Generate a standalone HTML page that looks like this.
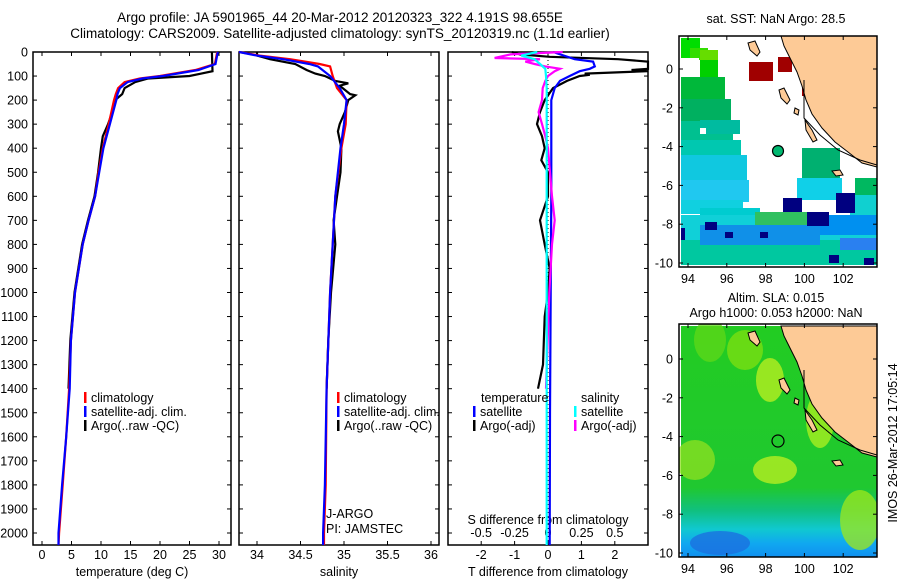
<!DOCTYPE html>
<html><head><meta charset="utf-8"><style>
body{margin:0;background:#fff;}
svg{display:block;font-family:"Liberation Sans",sans-serif;}
text{fill:#000;}
</style></head><body>
<svg id="fig" width="900" height="580" viewBox="0 0 900 580">
<defs>
<clipPath id="clip1"><rect x="679" y="36" width="198" height="231"/></clipPath>
<clipPath id="clip2"><rect x="679" y="324" width="198" height="233"/></clipPath>
</defs>
<text x="340" y="22" font-size="13.5" text-anchor="middle">Argo profile: JA 5901965_44 20-Mar-2012 20120323_322 4.191S 98.655E</text>
<text x="340" y="38" font-size="13.5" text-anchor="middle">Climatology: CARS2009. Satellite-adjusted climatology: synTS_20120319.nc (1.1d earlier)</text>
<g id="plots"></g>
<g id="maps"></g>
</svg>
<script>
// ---------- data ----------
const depthTicks=[0,100,200,300,400,500,600,700,800,900,1000,1100,1200,1300,1400,1500,1600,1700,1800,1900,2000];
const tTicks=[0,5,10,15,20,25,30];
const sTicks=[34,34.5,35,35.5,36];
const dTTicks=[-2,-1,0,1,2];
const dSTicks=[-0.5,-0.25,0,0.25,0.5];
const dSTickLabels=["-0.5","-0.25","0","0.25","0.5"];

const tClimDepth=[0,50,75,100,110,125,150,175,200,300,400,500,600,700,800,1000,1200,1400,1600,1800,2000,2050];
const tClim=[29.7,29.3,26,20,16.6,14,12.9,12.5,12.2,11.3,10.3,9.6,9.0,7.9,6.9,5.6,4.9,4.6,4.1,3.5,2.9,2.8];
const tSat=[29.8,29.4,26.5,20.5,17,14.5,13.2,12.8,12.6,11.5,10.4,9.7,9.0,7.9,6.9,5.6,4.9,4.7,4.1,3.4,2.8,2.8];
const tArgoDepth=[0,80,90,100,110,125,150,175,200,250,300,350,400,500,600,700,800,1000,1200,1400];
const tArgo=[28.8,28.9,27,25,18,15.8,14,13.6,12.4,11.9,11.2,10.3,10.0,9.5,8.9,7.8,6.8,5.5,4.8,4.5];

const sClimDepth=[0,15,30,50,60,100,150,200,300,400,600,1000,1400,1800,2000,2050];
const sClim=[33.79,34.03,34.38,34.72,34.84,34.87,34.92,35.03,35.02,34.97,34.90,34.84,34.80,34.79,34.77,34.77];
const sSat=[33.79,34.0,34.3,34.6,34.7,34.84,34.95,35.03,35.0,34.96,34.90,34.84,34.80,34.78,34.76,34.76];
const sArgoDepth=[0,15,30,50,75,90,100,120,130,140,175,180,200,250,300,330,400,500,600,700,800,1000,1200,1400];
const sArgo=[34.0,34.0,34.15,34.44,34.57,34.67,34.78,34.9,35.05,34.95,35.07,35.13,35.05,35.01,34.95,34.93,34.97,34.96,34.92,34.88,34.90,34.85,34.82,34.80];

const dTSatDepth=[0,30,40,60,70,80,100,120,150,200,600,1000,1500,2000,2050];
const dTSat=[0.15,0.8,1.35,1.4,1.25,0.95,0.65,0.36,0.2,0.1,0.1,0.08,0.06,0.05,0.05];
const dTArgoDepth=[0,10,20,30,40,70,75,80,90,95,100,120,150,200,250,300,350,400,450,500,600,700,800,900,1000,1100,1300,1400];
const dTArgo=[-1.08,-0.84,0.05,2.1,3.5,3.5,2.5,3.5,1.1,1.25,0.95,0.57,0.15,-0.1,-0.24,-0.33,-0.18,-0.1,-0.2,0,0,-0.24,-0.1,0.05,0,-0.1,-0.15,-0.3];
const dSArgoDepth=[0,10,25,30,40,50,60,70,80,100,120,150,200,250,300,350,400,500,600,700,800,1000,1400];
const dSArgo=[0.11,-0.28,-0.4,-0.06,-0.17,-0.1,-0.02,0.09,0.05,0,-0.02,-0.04,-0.045,-0.07,-0.045,-0.02,0,0.015,0.03,0.05,0.03,0.01,-0.015];
const dSSatDepth=[0,15,30,50,70,100,150,600,1000,2000,2050];
const dSSat=[-0.08,-0.2,-0.1,-0.06,-0.02,-0.015,-0.01,-0.01,-0.01,-0.01,-0.01];

const latTicks=[0,-2,-4,-6,-8,-10];
const lonTicks=[94,96,98,100,102];

// ---------- helpers ----------
const NS="http://www.w3.org/2000/svg";
function mk(tag,attrs,parent){const e=document.createElementNS(NS,tag);for(const k in attrs)e.setAttribute(k,attrs[k]);parent.appendChild(e);return e;}
const plots=document.getElementById('plots');
const maps=document.getElementById('maps');
const TOP=52,BOT=545;
const yD=d=>TOP+d*(481/2000);

function line(g,xs,ds,xf,color,name,x0,x1){
  const pts=xs.map((v,i)=>{let x=xf(v);x=Math.max(x0,Math.min(x1,x));return x.toFixed(1)+','+yD(ds[i]).toFixed(1);}).join(' ');
  const p=mk('polyline',{points:pts,fill:'none',stroke:color,'stroke-width':2.2,'stroke-linejoin':'miter'},g);
  
  
}
function box(g,x0,x1,name){
  const r=mk('rect',{x:x0,y:TOP,width:x1-x0,height:BOT-TOP,fill:'none',stroke:'#000','stroke-width':1.5},g);
  
  
  depthTicks.forEach(d=>{mk('line',{x1:x0,x2:x0+4,y1:yD(d),y2:yD(d),stroke:'#000'},g);mk('line',{x1:x1,x2:x1-4,y1:yD(d),y2:yD(d),stroke:'#000'},g);});
}
function xticks(g,ticks,labels,xf,ly){
  ticks.forEach((t,i)=>{const x=xf(t);
    mk('line',{x1:x,x2:x,y1:BOT,y2:BOT-4,stroke:'#000'},g);
    mk('line',{x1:x,x2:x,y1:TOP,y2:TOP+4,stroke:'#000'},g);
    const tx=mk('text',{x:x,y:ly,'font-size':12.5,'text-anchor':'middle'},g);tx.textContent=labels[i];
    
    
  });
}
function txt(g,x,y,s,name,anchor,size){const t=mk('text',{x:x,y:y,'font-size':size||12.5,'text-anchor':anchor||'start'},g);t.textContent=s;
  
  return t;}
function legend(g,x,y,color,label,name){mk('rect',{x:x,y:y-10,width:2.5,height:11,fill:color},g);txt(g,x+7,y,label,name);}

// ---------- panel 1: temperature ----------
const g1=mk('g',{},plots);


const xT=t=>42+5.9*t;
box(g1,33,231,'temperature-plot-frame');
depthTicks.forEach(d=>{txt(g1,28,yD(d)+4.5,String(d),'depth-tick-label','end');});
xticks(g1,tTicks,tTicks.map(String),xT,559);
txt(g1,132,576,'temperature (deg C)','temperature-x-axis-title','middle');
line(g1,tArgo,tArgoDepth,xT,'#000','temperature-argo-line',33,231);
line(g1,tClim,tClimDepth,xT,'#f00','temperature-climatology-line',33,231);
line(g1,tSat,tClimDepth,xT,'#00f','temperature-satellite-line',33,231);
legend(g1,84,402,'#f00','climatology','legend-climatology');
legend(g1,84,416,'#00f','satellite-adj. clim.','legend-satellite-adj');
legend(g1,84,430,'#000','Argo(..raw -QC)','legend-argo');

// ---------- panel 2: salinity ----------
const g2=mk('g',{},plots);


const xS=s=>257+87*(s-34);
box(g2,239,439,'salinity-plot-frame');
xticks(g2,sTicks,["34","34.5","35","35.5","36"],xS,559);
txt(g2,339,576,'salinity','salinity-x-axis-title','middle');
line(g2,sArgo,sArgoDepth,xS,'#000','salinity-argo-line',239,439);
line(g2,sClim,sClimDepth,xS,'#f00','salinity-climatology-line',239,439);
line(g2,sSat,sClimDepth,xS,'#00f','salinity-satellite-line',239,439);
legend(g2,337,402,'#f00','climatology','legend-climatology-s');
legend(g2,337,416,'#00f','satellite-adj. clim.','legend-satellite-adj-s');
legend(g2,337,430,'#000','Argo(..raw -QC)','legend-argo-s');
txt(g2,326,518,'J-ARGO','program-label');
txt(g2,326,533,'PI: JAMSTEC','pi-label');

// ---------- panel 3: differences ----------
const g3=mk('g',{},plots);


const xdT=t=>548+33.4*t;
const xdS=s=>548+133.6*s;
box(g3,448,648,'difference-plot-frame');
mk('line',{x1:548,x2:548,y1:TOP,y2:BOT,stroke:'#000','stroke-dasharray':'1,3'},g3);
xticks(g3,dTTicks,dTTicks.map(String),xdT,559);
dSTicks.forEach((t,i)=>txt(g3,xdS(t),537,dSTickLabels[i],'s-diff-tick-label','middle'));
txt(g3,548,524,'S difference from climatology','s-diff-axis-title','middle');
txt(g3,548,576,'T difference from climatology','t-diff-x-axis-title','middle');
line(g3,dTArgo,dTArgoDepth,xdT,'#000','t-diff-argo-line',448,648);
line(g3,dTSat,dTSatDepth,xdT,'#00f','t-diff-satellite-line',448,648);
line(g3,dSArgo,dSArgoDepth,xdS,'#f0f','s-diff-argo-line',448,648);
line(g3,dSSat,dSSatDepth,xdS,'#0ff','s-diff-satellite-line',448,648);
txt(g3,481,402,'temperature','legend-temperature-heading');
txt(g3,581,402,'salinity','legend-salinity-heading');
legend(g3,473,416,'#00f','satellite','legend-t-satellite');
legend(g3,473,430,'#000','Argo(-adj)','legend-t-argo');
legend(g3,574,416,'#0ff','satellite','legend-s-satellite');
legend(g3,574,430,'#f0f','Argo(-adj)','legend-s-argo');

// ---------- maps ----------
const MX0=679,MX1=877;
const xLon=l=>688+19.4*(l-94);
function mapFrame(g,yTop,yBot,y0,name){
  const yLat=l=>y0-19.4*l;
  latTicks.forEach(l=>{const y=yLat(l);mk('line',{x1:MX0,x2:MX0+4,y1:y,y2:y,stroke:'#000'},g);mk('line',{x1:MX1,x2:MX1-4,y1:y,y2:y,stroke:'#000'},g);
    txt(g,673,y+4.5,String(l),'lat-tick-label','end');});
  lonTicks.forEach(l=>{const x=xLon(l);mk('line',{x1:x,x2:x,y1:yTop,y2:yTop+4,stroke:'#000'},g);mk('line',{x1:x,x2:x,y1:yBot,y2:yBot-4,stroke:'#000'},g);
    txt(g,x,yBot+16,String(l),'lon-tick-label','middle');});
  const r=mk('rect',{x:MX0,y:yTop,width:MX1-MX0,height:yBot-yTop,fill:'none',stroke:'#000','stroke-width':1.5},g);
  
  
}
function land(g,dy){
  const pts=[[781,36],[877,36],[877,167],[862,163],[848,152],[835,142],[822,128],[812,114],[806,100],[802,86],[797,72],[790,58],[784,46]];
  const p=mk('polygon',{points:pts.map(p=>p[0]+','+(p[1]+dy)).join(' '),fill:'#fdca96',stroke:'#000','stroke-width':1},g);
  
  
  [[[748,43],[755,41],[760,52],[757,56],[750,50]],[[779,90],[784,88],[790,100],[787,104],[781,98]],[[795,108],[799,110],[798,115],[794,113]],[[805,120],[812,130],[817,140],[813,142],[806,130]],[[832,171],[840,170],[843,175],[836,176]]].forEach(isl=>{
    mk('polygon',{points:isl.map(p=>p[0]+','+(p[1]+dy)).join(' '),fill:'#fdca96',stroke:'#000'},g);});
  mk('polyline',{points:[[804,80],[804,118],[820,135],[838,150],[860,160],[877,165]].map(p=>p[0]+','+(p[1]+dy)).join(' '),fill:'none',stroke:'#000'},g);
}
// map 1 : SST
const m1=mk('g',{},maps);


txt(m1,776,23,'sat. SST: NaN Argo: 28.5','sst-map-title','middle');
const m1c=mk('g',{'clip-path':'url(#clip1)'},m1);
const cells1=[
 [681,38,20,20,'#00dd00'],[690,48,18,12,'#33dd00'],[700,50,18,12,'#66dd00'],[700,60,18,18,'#00d000'],
 [681,77,44,22,'#00b83a'],[681,99,50,22,'#00b060'],[681,121,52,20,'#00c090'],[700,120,40,14,'#00bba0'],
 [681,140,60,18,'#00c8b0'],[681,155,66,28,'#10c8e0'],[681,180,68,22,'#20c8f0'],[681,200,62,14,'#10d0e0'],
 [700,208,60,14,'#00ccd0'],[681,215,196,50,'#10d0d8'],[681,240,196,25,'#00c8a0'],[755,212,60,16,'#30c060'],
 [802,148,38,30,'#00b070'],[797,178,45,22,'#10d0e8'],[855,178,22,18,'#00b860'],[850,195,27,20,'#10d0d0'],
 [820,215,57,20,'#0090f0'],[700,225,120,20,'#1090e8'],[840,238,37,12,'#2a80f0'],
 [749,62,24,19,'#a00000'],[778,57,14,15,'#a00000'],[802,82,8,14,'#a00000'],[871,44,6,10,'#a00000'],
 [783,198,19,14,'#000080'],[836,193,19,20,'#000080'],[807,212,22,14,'#000080'],[705,222,12,8,'#000080'],
 [725,232,8,6,'#000080'],[760,232,8,6,'#000080'],[681,228,4,12,'#000080'],[864,258,10,7,'#000080'],[829,255,10,8,'#000080']];
cells1.forEach(c=>mk('rect',{x:c[0],y:c[1],width:c[2],height:c[3],fill:c[4]},m1c));
mk('rect',{x:700,y:38,width:18,height:10,fill:'#fff'},m1c);
mk('rect',{x:681,y:58,width:18,height:18,fill:'#fff'},m1c);
mk('rect',{x:700,y:128,width:6,height:6,fill:'#fff'},m1c);
land(m1c,0);
const c1=mk('circle',{cx:778,cy:151,r:5.5,fill:'#00b870',stroke:'#000','stroke-width':1.2},m1);


mapFrame(m1,36,267,69,'sst-map-frame');

// map 2 : SLA
const m2=mk('g',{},maps);


txt(m2,776,302,'Altim. SLA: 0.015','sla-map-title-1','middle');
txt(m2,776,317,'Argo h1000: 0.053 h2000: NaN','sla-map-title-2','middle');
const m2c=mk('g',{'clip-path':'url(#clip2)'},m2);
const defs=mk('defs',{},m2);
const lg=mk('linearGradient',{id:'slag',x1:0,y1:0,x2:0,y2:1},defs);
[[0,'#22cc22'],[0.7,'#20c830'],[0.8,'#10c080'],[0.88,'#10c8d0'],[0.94,'#10a8f0'],[1,'#1090f0']].forEach(s=>mk('stop',{offset:s[0],'stop-color':s[1]},lg));
mk('rect',{x:681,y:326,width:196,height:231,fill:'url(#slag)'},m2c);
[[695,460,20,20,'#90e020'],[770,380,14,22,'#c0f020'],[745,350,18,20,'#80e010'],[775,470,22,14,'#c0f020'],[820,420,14,28,'#b0f020'],[860,520,20,30,'#a0e818'],[710,340,16,22,'#60d818']].forEach(e=>mk('ellipse',{cx:e[0],cy:e[1],rx:e[2],ry:e[3],fill:e[4],opacity:0.75},m2c));
mk('ellipse',{cx:720,cy:543,rx:30,ry:12,fill:'#1a70e0',opacity:0.8},m2c);
land(m2c,290);
const c2=mk('circle',{cx:778,cy:441,r:6,fill:'none',stroke:'#000','stroke-width':1.2},m2);


mapFrame(m2,324,557,359,'sla-map-frame');
const st=txt(maps,0,0,'IMOS 26-Mar-2012 17:05:14','imos-timestamp','middle');
st.setAttribute('transform','translate(897,443) rotate(-90)');
</script>
</body></html>
